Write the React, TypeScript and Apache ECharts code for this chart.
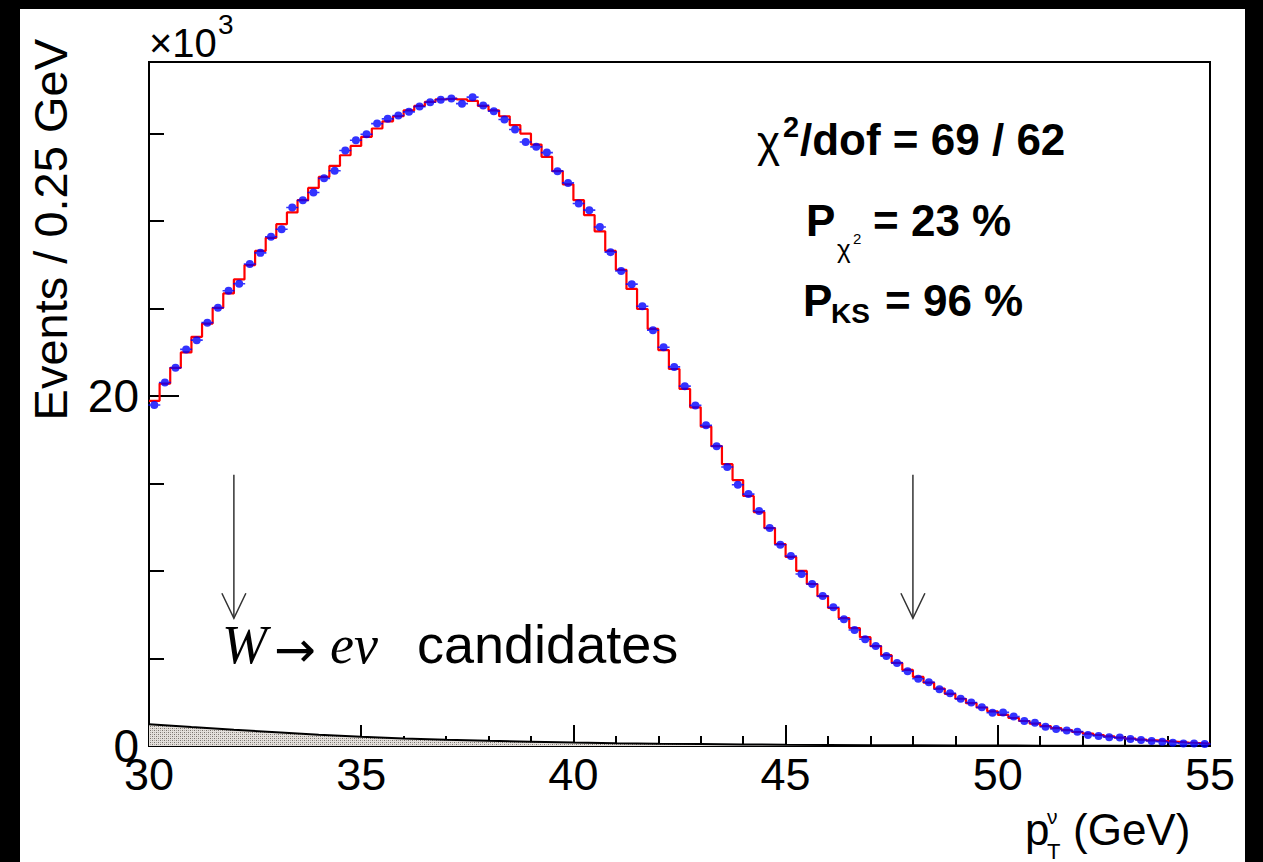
import React, { useEffect, useRef } from "react";
import * as echarts from "echarts";

// ---------- data (values in units of 10^3 events per 0.25 GeV) ----------
const BIN_START = 30;
const BIN_WIDTH = 0.25;

const SIGNAL = [
  19.73, 20.72, 21.62, 22.5, 23.39, 24.15, 25.05, 25.87, 26.67, 27.49,
  28.3, 29.05, 29.83, 30.5, 31.2, 31.9, 32.53, 33.16, 33.77, 34.3,
  34.82, 35.3, 35.71, 36.0, 36.34, 36.59, 36.82, 36.97, 37.01, 36.96,
  36.88, 36.59, 36.34, 36.0, 35.49, 35.01, 34.38, 33.68, 32.86, 32.11,
  31.2, 30.35, 29.42, 28.3, 27.22, 26.13, 24.98, 23.84, 22.63, 21.55,
  20.41, 19.36, 18.26, 17.14, 16.11, 15.2, 14.29, 13.37, 12.46, 11.54,
  10.81, 10.01, 9.26, 8.57, 7.89, 7.31, 6.74, 6.22, 5.71, 5.19,
  4.75, 4.35, 3.95, 3.62, 3.28, 2.98, 2.7, 2.45, 2.2, 1.98,
  1.78, 1.6, 1.43, 1.28, 1.14, 1.02, 0.91, 0.8, 0.71, 0.63,
  0.55, 0.48, 0.42, 0.37, 0.32, 0.28, 0.24, 0.2, 0.17, 0.14,
];

const DATA = [
  19.49, 20.78, 21.62, 22.67, 23.2, 24.2, 25.05, 26.02, 26.42, 27.55,
  28.19, 29.11, 29.54, 30.78, 31.19, 31.64, 32.45, 32.88, 34.04, 34.63,
  34.97, 35.58, 35.85, 36.04, 36.25, 36.55, 36.8, 36.94, 37.01, 36.72,
  37.09, 36.62, 36.29, 35.81, 35.24, 34.53, 34.25, 33.92, 32.86, 32.19,
  31.01, 30.63, 29.67, 28.23, 27.15, 26.4, 25.14, 23.77, 22.79, 21.67,
  20.57, 19.47, 18.33, 17.14, 15.95, 14.93, 14.4, 13.44, 12.46, 11.5,
  10.86, 9.83, 9.26, 8.57, 7.93, 7.25, 6.63, 6.1, 5.71, 5.14,
  4.75, 4.27, 3.84, 3.64, 3.24, 3.01, 2.7, 2.49, 2.21, 1.9,
  1.92, 1.68, 1.43, 1.33, 1.1, 0.97, 0.88, 0.82, 0.63, 0.57,
  0.5, 0.48, 0.4, 0.34, 0.29, 0.25, 0.19, 0.15, 0.15, 0.11,
];

const BKG_X = [
  30, 31, 32, 33, 34, 35, 36, 37, 38, 39, 40, 41, 42, 43, 44, 45, 46, 47, 48,
  49, 50, 51, 52, 53, 54, 55,
];
const BKG = [
  1.25, 1.08, 0.93, 0.79, 0.65, 0.53, 0.43, 0.36, 0.3, 0.25, 0.2, 0.16, 0.13,
  0.11, 0.09, 0.07, 0.06, 0.05, 0.04, 0.03, 0.03, 0.02, 0.02, 0.01, 0.01, 0.01,
];

const X_MIN = 30;
const X_MAX = 55;
const Y_MAX = 39.1;
const Y_LABELS = [0, 20];

const ARROW_X = [32, 48];
const ARROW_TOP = 15.5;
const ARROW_TIP = 7.3;

const CHI2 = 69;
const DOF = 62;
const P_CHI2 = 23;
const P_KS = 96;

const SANS = '"Liberation Sans", Arial, Helvetica, sans-serif';
const SERIF = '"Liberation Serif", "Times New Roman", serif';

function makePattern(): string {
  const cv = document.createElement("canvas");
  cv.width = 4;
  cv.height = 4;
  const ctx = cv.getContext("2d");
  if (ctx) {
    ctx.fillStyle = "#e4e0dc";
    ctx.fillRect(0, 0, 4, 4);
    ctx.fillStyle = "#77716b";
    ctx.fillRect(0, 0, 1, 1);
    ctx.fillRect(2, 2, 1, 1);
    ctx.fillStyle = "#aaa49e";
    ctx.fillRect(2, 0, 1, 1);
    ctx.fillRect(0, 2, 1, 1);
  }
  return cv.toDataURL();
}

export default function App() {
  const ref = useRef<HTMLDivElement>(null);

  useEffect(() => {
    if (!ref.current) return;
    const chart = echarts.init(ref.current, null, { renderer: "svg" });

    const sigData: number[][] = SIGNAL.map((v, i) => [BIN_START + i * BIN_WIDTH, v]);
    sigData.push([BIN_START + SIGNAL.length * BIN_WIDTH, SIGNAL[SIGNAL.length - 1]]);
    const dataPts = DATA.map((v, i) => [BIN_START + (i + 0.5) * BIN_WIDTH, v]);
    const bkgPts = BKG_X.map((x, i) => [x, BKG[i]]);

    const pattern = makePattern();

    const tickStyle = { color: "#000", width: 2 };

    chart.setOption({
      animation: false,
      backgroundColor: "transparent",
      grid: {
        left: 149,
        top: 62,
        width: 1061,
        height: 684,
        show: true,
        borderColor: "#000",
        borderWidth: 2,
        backgroundColor: "transparent",
        containLabel: false,
      },
      xAxis: {
        type: "value",
        min: X_MIN,
        max: X_MAX,
        interval: 5,
        axisLine: { show: true, lineStyle: tickStyle },
        axisTick: { show: true, inside: true, length: 21, lineStyle: tickStyle },
        minorTick: { show: true, splitNumber: 5, length: 10, lineStyle: tickStyle },
        splitLine: { show: false },
        axisLabel: {
          show: true,
          color: "#000",
          fontSize: 45,
          fontFamily: SANS,
          margin: 6,
        },
      },
      yAxis: [
        {
          type: "value",
          min: 0,
          max: Y_MAX,
          interval: 5,
          position: "left",
          axisLine: { show: true, lineStyle: tickStyle },
          axisTick: { show: true, inside: true, length: 15, lineStyle: tickStyle },
          axisLabel: { show: false },
          splitLine: { show: false },
        },
        {
          type: "value",
          min: 0,
          max: Y_MAX,
          interval: 20,
          position: "left",
          axisLine: { show: false },
          axisTick: { show: true, inside: true, length: 30, lineStyle: tickStyle },
          axisLabel: {
            show: true,
            color: "#000",
            fontSize: 46,
            fontFamily: SANS,
            margin: 10,
            showMaxLabel: false,
            formatter: (v: number) => (Y_LABELS.indexOf(v) >= 0 ? String(v) : ""),
          },
          splitLine: { show: false },
        },
      ],
      series: [
        {
          type: "line",
          name: "background",
          data: bkgPts,
          symbol: "none",
          lineStyle: { color: "#000", width: 2 },
          areaStyle: {
            color: {
              image: pattern,
              repeat: "repeat",
              imageWidth: 4,
              imageHeight: 4,
            } as any,
            opacity: 1,
          },
          z: 1,
        },
        {
          type: "line",
          name: "simulation",
          data: sigData,
          step: "end",
          symbol: "none",
          lineStyle: { color: "#ff0000", width: 2.2 },
          z: 2,
        },
        {
          type: "scatter",
          name: "data",
          data: dataPts,
          symbol: "path://M0 3.2H12V4.8H0Z M2 4A4 4 0 1 1 10 4A4 4 0 1 1 2 4Z",
          symbolSize: [12, 8],
          itemStyle: { color: "#0000ff" },
          z: 3,
        },
      ],
    });

    const arrows: any[] = [];
    ARROW_X.forEach((x) => {
      const top = chart.convertToPixel({ seriesIndex: 1 }, [x, ARROW_TOP]) as number[];
      const tip = chart.convertToPixel({ seriesIndex: 1 }, [x, ARROW_TIP]) as number[];
      arrows.push({
        type: "line",
        shape: { x1: top[0], y1: top[1], x2: tip[0], y2: tip[1] },
        style: { stroke: "#333", lineWidth: 1.5 },
      });
      arrows.push({
        type: "polyline",
        shape: {
          points: [
            [tip[0] - 12, tip[1] - 25],
            [tip[0], tip[1]],
            [tip[0] + 12, tip[1] - 25],
          ],
        },
        style: { stroke: "#333", lineWidth: 1.5, fill: null },
      });
    });

    const txt = (
      text: string,
      x: number,
      y: number,
      fontSize: number,
      opts: any = {}
    ) => ({
      type: "text",
      x,
      y,
      rotation: opts.rotation || 0,
      style: {
        text,
        fill: "#000",
        fontSize,
        fontFamily: opts.fontFamily || SANS,
        fontWeight: opts.fontWeight || "normal",
        fontStyle: opts.fontStyle || "normal",
        align: opts.align || "left",
        verticalAlign: "middle",
      },
    });

    const texts = [
      // axis titles
      txt("Events / 0.25 GeV", 50, 39, 47, { align: "right", rotation: Math.PI / 2 }),
      txt("\u00d710", 149, 43, 40),
      txt("3", 218, 24, 28),
      txt("p", 1025, 829, 44),
      txt("\u03bd", 1047, 816, 21),
      txt("T", 1047, 851, 22),
      txt("(GeV)", 1073, 829, 44),
      // statistics
      txt("\u03c7", 757, 141, 44),
      txt("2", 783, 127, 29, { fontWeight: "bold" }),
      txt("/dof = " + CHI2 + " / " + DOF, 800, 139, 44, { fontWeight: "bold" }),
      txt("P", 806, 220, 44, { fontWeight: "bold" }),
      txt("\u03c7", 837, 249, 26),
      txt("2", 853, 238, 15),
      txt("= " + P_CHI2 + " %", 873, 220, 44, { fontWeight: "bold" }),
      txt("P", 803, 300, 44, { fontWeight: "bold" }),
      txt("KS", 831, 313, 28, { fontWeight: "bold" }),
      txt("= " + P_KS + " %", 885, 300, 44, { fontWeight: "bold" }),
      // process label
      txt("W", 222, 645, 54, { fontFamily: SERIF, fontStyle: "italic" }),
      txt("\u2192", 274, 650, 50, { fontFamily: '"DejaVu Sans", sans-serif' }),
      txt("e\u03bd", 330, 645, 54, { fontFamily: SERIF, fontStyle: "italic" }),
      txt("candidates", 417, 644, 54),
    ];

    chart.setOption({ graphic: { elements: [...texts, ...arrows] } });

    return () => {
      chart.dispose();
    };
  }, []);

  return (
    <div
      style={{
        position: "fixed",
        left: 0,
        top: 0,
        width: 1263,
        height: 862,
        background: "#000",
        overflow: "hidden",
      }}
    >
      <div
        style={{
          position: "absolute",
          left: 20,
          top: 9,
          width: 1225,
          height: 853,
          background: "#fff",
        }}
      />
      <div
        ref={ref}
        style={{ position: "absolute", left: 0, top: 0, width: 1263, height: 862 }}
      />
    </div>
  );
}
